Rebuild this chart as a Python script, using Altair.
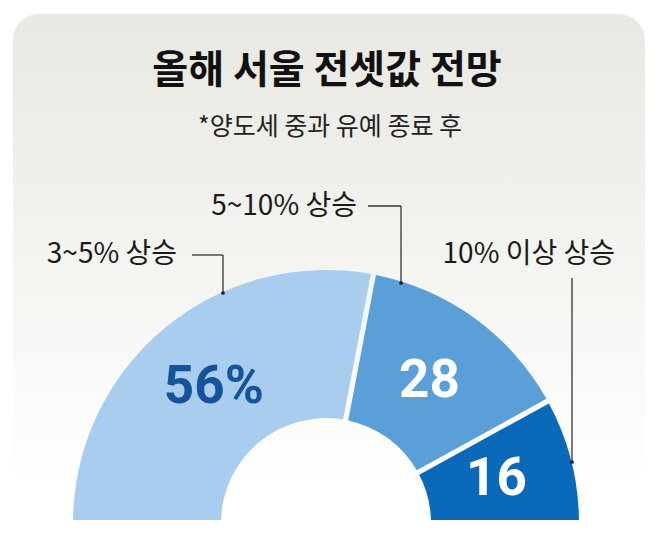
import math
import altair as alt
import pandas as pd

# ---- data ----
categories = ["3~5% 상승", "5~10% 상승", "10% 이상 상승"]
values = [56, 28, 16]
value_labels = ["56%", "28", "16"]
title_text = "올해 서울 전셋값 전망"
subtitle_text = "*양도세 중과 유예 종료 후"

# ---- styles / layout ----
seg_colors = ["#a8cdee", "#5a9fd8", "#0a69b8"]
num_colors = ["#15539b", "#ffffff", "#ffffff"]
W, H = 642, 512
CX, CY = 318, 515
R_OUT, R_IN = 253, 105
KR = "Noto Sans CJK KR"

df = pd.DataFrame({
    "cat": categories,
    "value": values,
    "order": list(range(len(values))),
    "label": value_labels,
    "fill": seg_colors,
    "tcolor": num_colors,
})

theta_scale = alt.Scale(domain=[0, sum(values)], range=[-math.pi / 2, math.pi / 2])

# background card
card = alt.Chart(pd.DataFrame({"a": [0]})).mark_rect(
    cornerRadius=26,
    fill=alt.Gradient(
        gradient="linear",
        stops=[
            alt.GradientStop(offset=0, color="#e9e8e2"),
            alt.GradientStop(offset=0.5, color="#f5f5f2"),
            alt.GradientStop(offset=0.85, color="#ffffff"),
        ],
        x1=0, x2=0, y1=0, y2=1,
    ),
).encode(x=alt.value(5), x2=alt.value(637), y=alt.value(6), y2=alt.value(560))

arc = alt.Chart(df).mark_arc(radius=R_OUT, radius2=R_IN, padAngle=0.019).encode(
    theta=alt.Theta("value:Q", stack=True, scale=theta_scale),
    color=alt.Color("fill:N", scale=None),
    order=alt.Order("order:Q"),
    x=alt.value(CX),
    y=alt.value(CY),
)

nums = alt.Chart(df).mark_text(
    radius=176, fontSize=53, fontWeight="bold", font="Roboto",
    align="center", baseline="middle",
).encode(
    theta=alt.Theta("value:Q", stack=True, scale=theta_scale),
    order=alt.Order("order:Q"),
    text="label:N",
    color=alt.Color("tcolor:N", scale=None),
    x=alt.value(CX),
    y=alt.value(CY),
)

# leader lines (annotation layout, pixel coordinates)
lead = pd.DataFrame({
    "x": [184, 215, 360, 393, 564],
    "y": [247, 247, 198, 198, 270],
    "x2": [215, 215, 393, 393, 564],
    "y2": [247, 285, 198, 275, 454],
})
rules = alt.Chart(lead).mark_rule(color="#333333", strokeWidth=1.3).encode(
    x=alt.X("x:Q", scale=None, axis=None),
    y=alt.Y("y:Q", scale=None, axis=None),
    x2="x2:Q",
    y2="y2:Q",
)
dots_df = pd.DataFrame({"x": [215, 393, 564], "y": [285, 275, 454]})
dots = alt.Chart(dots_df).mark_point(filled=True, size=14, color="#222222", opacity=1).encode(
    x=alt.X("x:Q", scale=None, axis=None),
    y=alt.Y("y:Q", scale=None, axis=None),
)

lab_df = pd.DataFrame({"cat": categories, "x": [169, 349, 607], "y": [247, 199, 247]})
labels = alt.Chart(lab_df).mark_text(
    font=KR, fontSize=28, color="#1a1a1a", align="right", baseline="middle",
).encode(
    x=alt.X("x:Q", scale=None, axis=None),
    y=alt.Y("y:Q", scale=None, axis=None),
    text="cat:N",
)

title = alt.Chart(pd.DataFrame({"t": [title_text]})).mark_text(
    font=KR, fontSize=39, fontWeight="bold", color="#111111", align="center", baseline="middle",
).encode(x=alt.value(319), y=alt.value(63), text="t:N")

subtitle = alt.Chart(pd.DataFrame({"t": [subtitle_text]})).mark_text(
    font=KR, fontSize=25, color="#222222", align="center", baseline="middle",
).encode(x=alt.value(322), y=alt.value(119), text="t:N")

chart = alt.layer(card, arc, nums, rules, dots, labels, title, subtitle).properties(
    width=W, height=H,
    autosize=alt.AutoSizeParams(type="none"),
    padding=0,
    background="white",
).configure_view(stroke="transparent")

chart.save("out.html", embed_options={"renderer": "svg", "actions": False})
